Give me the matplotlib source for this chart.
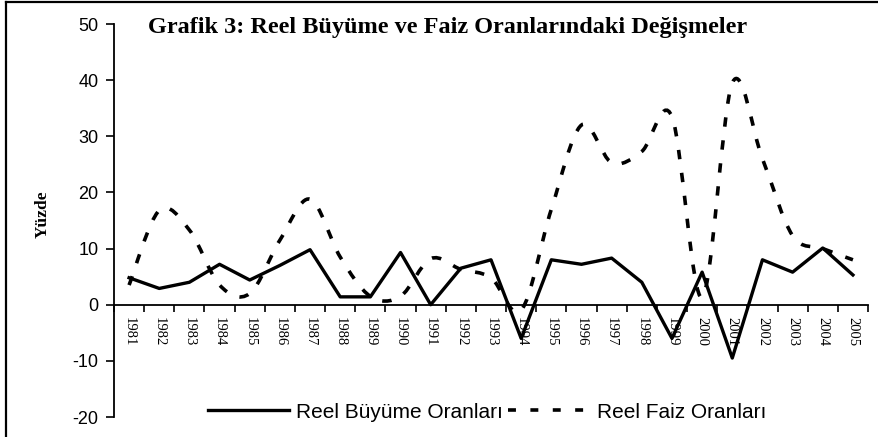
import numpy as np
import matplotlib
matplotlib.use("Agg")
import matplotlib.pyplot as plt
from matplotlib.path import Path
from matplotlib.patches import PathPatch
from matplotlib.lines import Line2D

plt.rcParams["axes.unicode_minus"] = False

# Données
years = [str(y) for y in range(1981, 2006)]
buyume = [4.8, 2.9, 4.0, 7.2, 4.4, 7.0, 9.8, 1.4, 1.4, 9.3, 0.0, 6.5, 8.0,
          -6.0, 8.0, 7.2, 8.3, 4.0, -6.0, 5.8, -9.5, 8.0, 5.8, 10.1, 5.3]
faiz = [3.5, 16.8, 13.3, 3.5, 2.0, 11.5, 18.8, 8.5, 1.5, 1.5, 8.2, 6.3, 4.8,
        -1.0, 17.0, 32.0, 25.3, 27.3, 33.5, 1.3, 39.5, 26.0, 12.3, 10.0, 8.0]
yticks = [-20, -10, 0, 10, 20, 30, 40, 50]

SANS = "Liberation Sans"
SERIF = "Liberation Serif"


def smooth_path(x, y):
    # courbe lissée (type Excel) passant par les points
    n = len(x)
    verts = [(x[0], y[0])]
    codes = [Path.MOVETO]
    for i in range(n - 1):
        a = max(i - 1, 0)
        b = min(i + 2, n - 1)
        c1 = (x[i] + (x[i + 1] - x[a]) / 6, y[i] + (y[i + 1] - y[a]) / 6)
        c2 = (x[i + 1] - (x[b] - x[i]) / 6, y[i + 1] - (y[b] - y[i]) / 6)
        verts += [c1, c2, (x[i + 1], y[i + 1])]
        codes += [Path.CURVE4] * 3
    return Path(verts, codes)


fig = plt.figure(figsize=(8.79, 4.37), dpi=100)
ax = fig.add_axes([114 / 879, 1 - 417 / 437, (868 - 114) / 879, (417 - 24) / 437])

x = np.arange(len(years))
ax.plot(x, buyume, color="black", lw=2.4, solid_joinstyle="round", zorder=3)
dash = (0, (2.6, 3.8))
ax.add_patch(PathPatch(smooth_path(x, faiz), fill=False, edgecolor="black",
                       lw=2.6, linestyle=dash, capstyle="butt", zorder=4))

ax.set_xlim(-0.5, len(years) - 0.5)
ax.set_ylim(-20, 50)
ax.spines["top"].set_visible(False)
ax.spines["right"].set_visible(False)
ax.spines["bottom"].set_position(("data", 0))
ax.spines["bottom"].set_linewidth(1.3)
ax.spines["left"].set_linewidth(1.3)

ax.set_xticks(np.arange(-0.5, len(years)), labels=[])
ax.set_xticks(x, labels=years, minor=True)
ax.tick_params(axis="x", which="major", direction="out", length=5, width=1.2)
ax.tick_params(axis="x", which="minor", length=0, pad=9)
for lab in ax.get_xticklabels(minor=True):
    lab.set_rotation(-90)
    lab.set_fontfamily(SERIF)
    lab.set_fontsize(10.5)
    lab.set_va("top")
    lab.set_ha("center")

ax.set_yticks(yticks)
ax.tick_params(axis="y", direction="out", length=6, width=1.2, pad=5)
for lab in ax.get_yticklabels():
    lab.set_fontfamily(SANS)
    lab.set_fontsize(13)

fig.text(448 / 879, 1 - 28 / 437,
         "Grafik 3: Reel Büyüme ve Faiz Oranlarındaki Değişmeler",
         ha="center", va="center", family=SERIF, weight="bold", fontsize=17.5)
fig.text(43 / 879, 1 - 214 / 437, "Yüzde", rotation=90, ha="center",
         va="center", family=SERIF, weight="bold", fontsize=12.5)

handles = [Line2D([], [], color="black", lw=2.4),
           Line2D([], [], color="black", lw=2.6, dashes=(2.2, 4.0))]
fig.legend(handles, ["Reel Büyüme Oranları", "Reel Faiz Oranları"],
           loc="center", bbox_to_anchor=(487 / 879, 1 - 412 / 437), ncol=2,
           frameon=False, handlelength=3.9, handletextpad=0.35,
           columnspacing=0.25, borderpad=0,
           prop={"family": SANS, "size": 15})

# cadre autour de la figure
fig.add_artist(Line2D([6 / 879, 6 / 879], [0, 1 - 2 / 437], color="black",
                      lw=1.6, transform=fig.transFigure))
fig.add_artist(Line2D([6 / 879, 1], [1 - 2 / 437, 1 - 2 / 437], color="black",
                      lw=1.6, transform=fig.transFigure))

fig.savefig("out.png", dpi=100)
